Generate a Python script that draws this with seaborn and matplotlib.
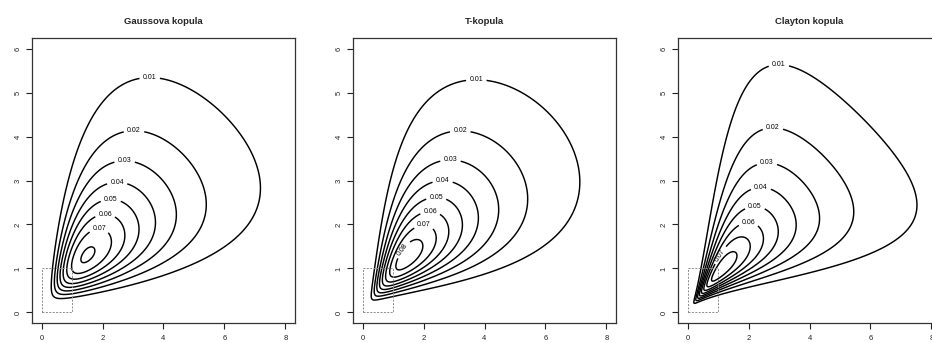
import math
import numpy as np
import pandas as pd
import matplotlib
matplotlib.use("Agg")
import matplotlib.pyplot as plt
import seaborn as sns

# Panel titles and contour levels
TITLES = ["Gaussova kopula", "T-kopula", "Clayton kopula"]
LEVELS = [0.01, 0.02, 0.03, 0.04, 0.05, 0.06, 0.07, 0.08]
LABELLED = {
    "Gaussova kopula": [0.01, 0.02, 0.03, 0.04, 0.05, 0.06, 0.07],
    "T-kopula": [0.01, 0.02, 0.03, 0.04, 0.05, 0.06, 0.07, 0.08],
    "Clayton kopula": [0.01, 0.02, 0.03, 0.04, 0.05, 0.06, 0.07],
}
ROTATED = {"Gaussova kopula": None, "T-kopula": 0.08, "Clayton kopula": 0.07}

# Lognormal marginals: (mean of log, sd of log)
MARGIN_X = (1.28, 0.765)
MARGIN_Y = (1.028, 0.69)

# Copula parameters
RHO_GAUSS = 0.55
RHO_T = 0.55
NU_T = 10
THETA_CLAYTON = 0.7

X_TICKS = [0, 2, 4, 6, 8]
Y_TICKS = [0, 1, 2, 3, 4, 5, 6]
# unit square (copula domain), drawn dashed
UNIT_X = [0, 1, 1, 0, 0]
UNIT_Y = [0, 0, 1, 1, 0]

sns.set_theme(style="ticks")
plt.rcParams["font.family"] = ["Liberation Sans", "DejaVu Sans"]

xs = np.linspace(0.005, 8.6, 700)
ys = np.linspace(0.005, 6.5, 560)
X, Y = np.meshgrid(xs, ys)

erfc = np.vectorize(math.erfc)


def margin(v, mu, sd):
    z = (np.log(v) - mu) / sd
    pdf = np.exp(-0.5 * z * z) / (v * sd * math.sqrt(2 * math.pi))
    cdf = 0.5 * erfc(-z / math.sqrt(2))
    return z, pdf, np.clip(cdf, 1e-300, 1.0)


zx, fx, ux = margin(xs, *MARGIN_X)
zy, fy, uy = margin(ys, *MARGIN_Y)
FX, FY = np.meshgrid(fx, fy)
ZX, ZY = np.meshgrid(zx, zy)
UX, UY = np.meshgrid(ux, uy)


def gauss_density():
    r = RHO_GAUSS
    q = (ZX ** 2 - 2 * r * ZX * ZY + ZY ** 2) / (1 - r * r)
    c = np.exp(-0.5 * q + 0.5 * (ZX ** 2 + ZY ** 2)) / math.sqrt(1 - r * r)
    return c * FX * FY


def t_quantile(u, nu):
    t = np.linspace(-400, 400, 800001)
    k = math.exp(math.lgamma((nu + 1) / 2) - math.lgamma(nu / 2)) / math.sqrt(nu * math.pi)
    pdf = k * (1 + t * t / nu) ** (-(nu + 1) / 2)
    cdf = np.concatenate([[0.0], np.cumsum(0.5 * (pdf[1:] + pdf[:-1]) * np.diff(t))])
    cdf /= cdf[-1]
    return np.interp(u, cdf, t)


def t_density():
    r, nu = RHO_T, NU_T
    a = t_quantile(ux, nu)
    b = t_quantile(uy, nu)
    A, B = np.meshgrid(a, b)
    k1 = math.exp(math.lgamma((nu + 1) / 2) - math.lgamma(nu / 2)) / math.sqrt(nu * math.pi)
    k2 = math.exp(math.lgamma((nu + 2) / 2) - math.lgamma(nu / 2)) / (nu * math.pi * math.sqrt(1 - r * r))
    f2 = k2 * (1 + (A * A - 2 * r * A * B + B * B) / (nu * (1 - r * r))) ** (-(nu + 2) / 2)
    f1a = k1 * (1 + A * A / nu) ** (-(nu + 1) / 2)
    f1b = k1 * (1 + B * B / nu) ** (-(nu + 1) / 2)
    return f2 / (f1a * f1b) * FX * FY


def clayton_density():
    th = THETA_CLAYTON
    lu, lv = np.log(UX), np.log(UY)
    s = np.exp(-th * lu) + np.exp(-th * lv) - 1
    logc = math.log(1 + th) + (-1 - th) * (lu + lv) + (-2 - 1 / th) * np.log(s)
    return np.exp(logc) * FX * FY


DENSITIES = [gauss_density(), t_density(), clayton_density()]

fig = plt.figure(figsize=(9.32, 3.43), dpi=100)
W, H = 932, 343
LEFTS = [32, 353, 678]
for title, Z, left in zip(TITLES, DENSITIES, LEFTS):
    ax = fig.add_axes([left / W, 20 / H, 263 / W, 285 / H])
    ax.set_facecolor("white")
    cs = ax.contour(X, Y, Z, levels=LEVELS, colors="black", linewidths=1.05)

    # dashed outline of the unit square
    sq = pd.DataFrame({"x": UNIT_X, "y": UNIT_Y})
    sns.lineplot(data=sq, x="x", y="y", sort=False, estimator=None, ax=ax,
                 color="#8a8a8a", linewidth=0.7, linestyle=(0, (2, 1.5)))

    # label each contour at its top (inner loop on its upper-left flank)
    label_levels, label_pos = [], []
    for lev in LABELLED[title]:
        idx = LEVELS.index(lev)
        segs = cs.allsegs[idx]
        if not segs or max(len(s) for s in segs) == 0:
            continue
        seg = max(segs, key=len)
        if lev == ROTATED[title]:
            cx, cy = seg[:, 0].mean(), seg[:, 1].mean()
            ang = np.degrees(np.arctan2(seg[:, 1] - cy, seg[:, 0] - cx))
            pos = seg[np.argmin(np.abs(ang - 150))]
        else:
            pos = seg[np.argmax(seg[:, 1])]
        label_levels.append(lev)
        label_pos.append((float(pos[0]), float(pos[1])))
    ax.clabel(cs, label_levels, manual=label_pos, inline=True, inline_spacing=3,
              fmt={lev: f"{lev:.2f}" for lev in LEVELS}, fontsize=5)

    ax.set_xlim(-0.32, 8.32)
    ax.set_ylim(-0.24, 6.24)
    ax.set_xticks(X_TICKS)
    ax.set_yticks(Y_TICKS)
    ax.set_xticklabels([str(v) for v in X_TICKS], fontsize=5.5)
    ax.set_yticklabels([str(v) for v in Y_TICKS], fontsize=5.5, rotation=90, va="center")
    ax.tick_params(axis="x", direction="out", length=4, width=0.8, pad=5, colors="#222222")
    ax.tick_params(axis="y", direction="out", length=4, width=0.8, pad=3.5, colors="#222222")
    ax.set_xlabel("")
    ax.set_ylabel("")
    for sp in ax.spines.values():
        sp.set_visible(True)
        sp.set_color("#333333")
        sp.set_linewidth(0.9)
    ax.set_title(title, fontsize=6.8, fontweight="bold", pad=10)

fig.savefig("out.png", dpi=100, facecolor="white")
